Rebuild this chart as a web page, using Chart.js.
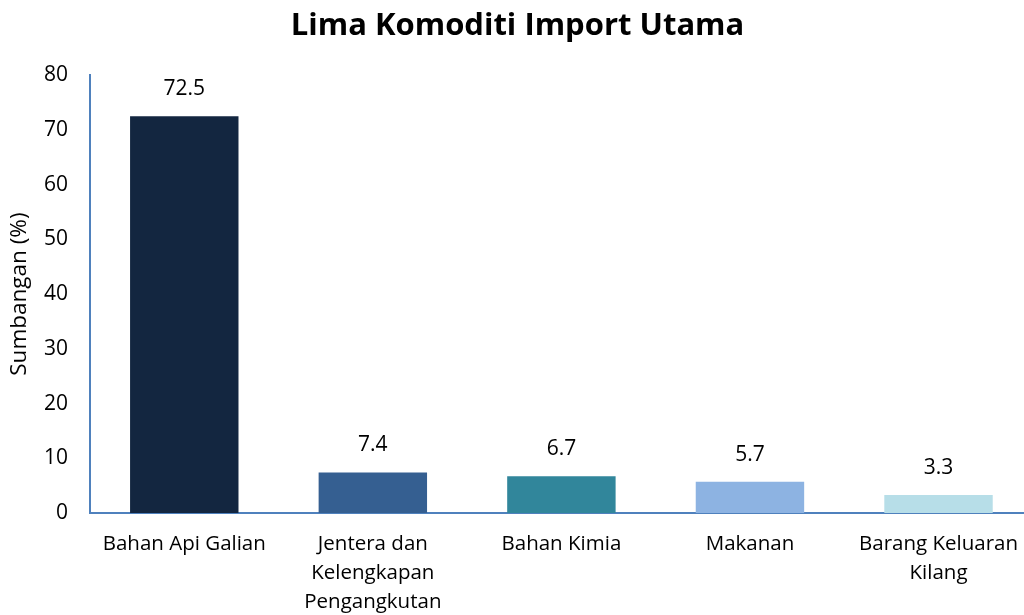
<!DOCTYPE html>
<html>
<head>
<meta charset="utf-8">
<script src="https://cdn.jsdelivr.net/npm/chart.js@4/dist/chart.umd.min.js"></script>
<style>
  html, body { margin: 0; padding: 0; background: #fff; overflow: hidden; }
</style>
</head>
<body>
<canvas id="myChart" width="1035" height="615"></canvas>
<script>
// Categories and values
const categories = [
    'Bahan Api Galian',
    ['Jentera dan', 'Kelengkapan', 'Pengangkutan'],
    'Bahan Kimia',
    'Makanan',
    ['Barang Keluaran', 'Kilang']
];
const shares = [72.5, 7.4, 6.7, 5.7, 3.3];
const barColors = ['#132640', '#355F91', '#31869B', '#8DB3E2', '#B7DEE8'];
const yTicks = [0, 10, 20, 30, 40, 50, 60, 70, 80];

const fontFamily = '"Open Sans", "Liberation Sans", sans-serif';

// Value labels above each bar
const valueLabels = {
    id: 'valueLabels',
    afterDatasetsDraw(chart) {
        const ctx = chart.ctx;
        const meta = chart.getDatasetMeta(0);
        ctx.save();
        ctx.fillStyle = '#000';
        ctx.font = '21px ' + fontFamily;
        ctx.textAlign = 'center';
        ctx.textBaseline = 'middle';
        meta.data.forEach((bar, i) => {
            ctx.fillText(shares[i].toFixed(1), bar.x, bar.y - 27);
        });
        ctx.restore();
    }
};

var ctx = document.getElementById('myChart').getContext('2d');

var myChart = new Chart(ctx, {
    type: 'bar',
    data: {
        labels: categories,
        datasets: [{
            data: shares,
            backgroundColor: barColors,
            borderWidth: 0,
            categoryPercentage: 1,
            barPercentage: 0.575
        }]
    },
    plugins: [valueLabels],
    options: {
        responsive: false,
        animation: false,
        layout: { padding: 0 },
        plugins: {
            legend: { display: false },
            tooltip: { enabled: false },
            title: {
                display: true,
                text: 'Lima Komoditi Import Utama',
                color: '#000',
                font: { family: fontFamily, size: 31, weight: 'bold', lineHeight: 1.2 },
                padding: { top: 8, bottom: 30 }
            }
        },
        scales: {
            x: {
                grid: { display: false, drawTicks: false },
                border: { color: '#4F81BD', width: 2 },
                ticks: {
                    color: '#000',
                    padding: 17,
                    maxRotation: 0,
                    autoSkip: false,
                    font: { family: fontFamily, size: 20.5, lineHeight: 1.4 }
                },
                afterFit(scale) { scale.height = 102; }
            },
            y: {
                min: 0,
                max: 80,
                grid: { display: false, drawTicks: false },
                border: { color: '#4F81BD', width: 2 },
                afterBuildTicks(scale) {
                    scale.ticks = yTicks.map(v => ({ value: v }));
                },
                ticks: {
                    color: '#000',
                    padding: 22,
                    font: { family: fontFamily, size: 21 }
                },
                title: {
                    display: true,
                    text: 'Sumbangan (%)',
                    color: '#000',
                    font: { family: fontFamily, size: 22.5 },
                    padding: { top: 6, bottom: 0 }
                },
                afterFit(scale) { scale.width = 90; }
            }
        }
    }
});
</script>
</body>
</html>
